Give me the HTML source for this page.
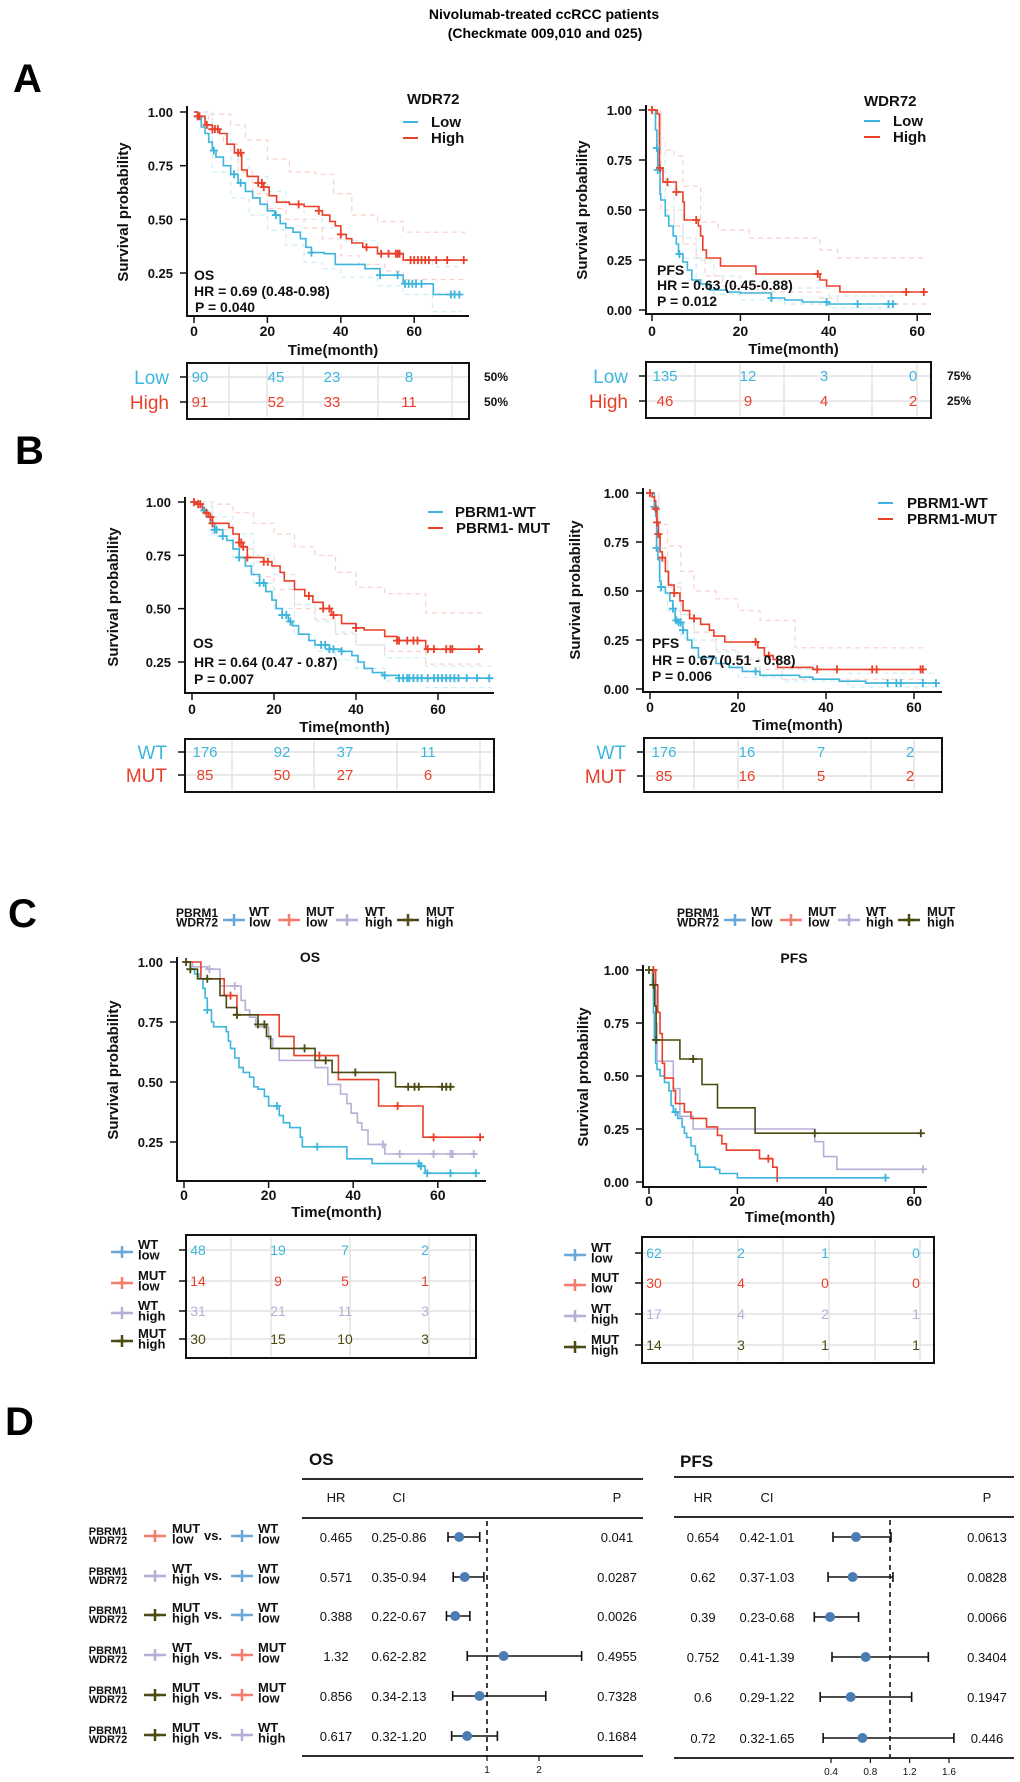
<!DOCTYPE html>
<html><head><meta charset="utf-8">
<style>
html,body{margin:0;padding:0;background:#fff;}
svg{display:block;font-family:"Liberation Sans",Arial,sans-serif;}
</style></head>
<body>
<svg id="fig" width="1020" height="1782" viewBox="0 0 1020 1782" xmlns="http://www.w3.org/2000/svg">
<rect x="0" y="0" width="1020" height="1782" fill="#fff"/>
<text x="544" y="19" text-anchor="middle" font-size="14" font-weight="bold">Nivolumab-treated  ccRCC patients</text>
<text x="545" y="38" text-anchor="middle" font-size="14" font-weight="bold">(Checkmate 009,010 and 025)</text>
<text x="13" y="92" font-size="40" font-weight="bold">A</text>
<text x="15" y="464" font-size="40" font-weight="bold">B</text>
<text x="8" y="927" font-size="40" font-weight="bold">C</text>
<text x="5" y="1435" font-size="40" font-weight="bold">D</text>
</svg>
<script>
// ===== DATA =====
const aOsLowT=[0,1,2,3,4,5,6,8,10,12,14,16,18,20,22,23.5,25,27,29,30.5,32,35.5,38.5,46.6,50.7,57,65.2,72.9];
const aOsLowS=[1,.97,.93,.9,.86,.82,.79,.75,.71,.67,.63,.6,.57,.54,.52,.48,.46,.44,.41,.37,.345,.34,.29,.27,.24,.2,.15,.15];
const aOsLowCens=[5.4,10.9,12.7,22.3,32,50.7,55.5,57.5,58.5,59.5,60.5,62,70,71,72.3];
const aOsHighT=[0,1,3,5,7,9,11,13,14.5,17.5,19,20.5,22.5,26,30,34,35,37,38.5,40,41.5,43,46,50,57,74];
const aOsHighS=[1,.98,.94,.92,.9,.85,.81,.73,.7,.67,.65,.61,.58,.57,.56,.54,.52,.49,.47,.43,.41,.39,.37,.34,.31,.31];
const aOsHighCens=[1,1.5,3.5,5,5.7,6.5,12,12.7,17.5,18.5,19,28.5,34,40,47,51,53,55,55.5,56,59,60,61,62,63,64,66,69,73.5];
const aOsHighUpT=[0,4,10,14,20,26,33,38,43,50,57,74];
const aOsHighUpS=[1,.99,.94,.87,.78,.72,.71,.62,.52,.49,.44,.44];
const aOsHighLoT=[0,4,8,12,16,20,25,30,35,40,45,52,57,74];
const aOsHighLoS=[1,.9,.85,.72,.62,.55,.5,.46,.41,.33,.29,.26,.22,.22];
const aOsLowUpT=[0,5,10,15,20,25,30,35,40,50,57,65,73];
const aOsLowUpS=[1,.9,.78,.7,.63,.57,.5,.46,.4,.35,.31,.28,.28];
const aOsLowLoT=[0,5,10,15,20,25,30,35,40,50,57,65,73];
const aOsLowLoS=[.97,.72,.6,.52,.45,.38,.3,.27,.23,.19,.15,.07,.07];
const aPfsLowT=[0,.8,1.1,1.3,1.8,2,3,3.8,4.8,5.5,6,7,8,9,11,13,17,20,27,30,34,40,55];
const aPfsLowS=[1,.9,.81,.7,.58,.55,.47,.42,.37,.33,.28,.24,.2,.15,.13,.1,.09,.085,.06,.05,.04,.03,.03];
const aPfsLowCens=[1.1,1.3,6.2,27,39.5,46.5,53.5,54.5];
const aPfsHighT=[0,1.2,1.7,2.5,5.5,7,7.3,10.5,11,11.5,12.3,15.5,23.5,38,39.5,42.5,62];
const aPfsHighS=[1,.98,.71,.64,.59,.54,.45,.42,.37,.3,.26,.22,.18,.15,.12,.09,.09];
const aPfsHighCens=[0,1.8,3.5,5.5,10,37.5,57.5,61.5];
const aPfsHighUpT=[0,2,5,7,11,15,22,38,42,62];
const aPfsHighUpS=[1,.8,.77,.62,.44,.4,.36,.3,.26,.26];
const aPfsHighLoT=[0,2,5,7,10,12,16,24,38,42,62];
const aPfsHighLoS=[.98,.5,.42,.33,.26,.17,.12,.09,.06,.03,.03];
const aPfsLowUpT=[0,1.5,3,5,7,10,14,20,30,40,55];
const aPfsLowUpS=[1,.86,.62,.5,.36,.25,.17,.14,.11,.07,.07];
const aPfsLowLoT=[0,1.5,3,5,7,10,14,20,30,40,55];
const aPfsLowLoS=[1,.75,.48,.37,.26,.13,.08,.05,.03,.01,.01];
const bOsWtT=[0,1,2.5,3.5,4.5,5.5,7.5,8.5,10,11.5,13,14.5,16.5,18,19.5,20.5,22,23.5,24.5,26,28.5,30,33.5,36.5,39,40.5,42,44,46.5,50.5,72.5];
const bOsWtS=[1,.99,.96,.93,.9,.87,.84,.82,.78,.74,.7,.66,.62,.58,.54,.5,.47,.44,.42,.38,.35,.33,.31,.3,.28,.25,.22,.2,.187,.174,.174];
const bOsWtCens=[3,5.5,6,7.5,11.5,16.5,17.5,22,23,24,31.5,32.5,33.5,34.5,36.5,47,50.5,51.5,52.5,53,54,55,56,57.5,59,60,61,62,63,64,65,67,69.5,72.5];
const bOsMutT=[0,1,2.5,3,4,5,9,10,11.5,12.5,13.5,17.5,19.5,21.5,22.5,25,27.5,29.5,32,34,36.5,40,42,47,50,57,70.5];
const bOsMutS=[1,.99,.97,.95,.93,.9,.88,.85,.81,.79,.74,.72,.7,.67,.63,.59,.56,.53,.5,.47,.43,.41,.4,.37,.35,.31,.31];
const bOsMutCens=[.5,1.5,2,3.5,4.5,5,11.5,12,12.5,13.5,17.5,18.5,28.5,32,33.5,34.5,40,50,50.5,52.5,54,55,57.5,59,62,63,63.5,70];
const bOsMutUpT=[0,5,10,15,20,25,30,35,40,47,57,71];
const bOsMutUpS=[1,.99,.95,.9,.85,.79,.75,.67,.6,.57,.48,.48];
const bOsMutLoT=[0,5,10,15,20,25,30,35,40,47,57,71];
const bOsMutLoS=[.98,.87,.78,.65,.59,.5,.45,.38,.33,.3,.24,.24];
const bOsWtUpT=[0,5,10,15,20,25,30,35,40,47,57,73];
const bOsWtUpS=[1,.93,.85,.75,.66,.52,.44,.39,.33,.27,.23,.23];
const bOsWtLoT=[0,5,10,15,20,25,30,35,40,47,57,73];
const bOsWtLoS=[.98,.84,.74,.62,.5,.38,.3,.26,.22,.16,.13,.13];
const bPfsWtT=[0,1,1.3,1.5,1.8,2.2,2.5,3.5,4.5,5.2,5.7,6.5,7.5,8.5,9.5,11,15,18,21,25,34,37,43,49,65];
const bPfsWtS=[1,.93,.88,.72,.66,.55,.52,.49,.45,.41,.35,.34,.3,.25,.21,.16,.13,.11,.09,.07,.06,.05,.04,.03,.03];
const bPfsWtCens=[1,1.5,2.5,5.2,6,6.5,7,7.5,24,54,56,57,62,65];
const bPfsMutT=[0,.5,1,1.3,1.6,1.9,2.3,2.8,3.5,4.2,5.5,6.8,7.5,9,11.5,13.5,14.5,17,24.5,26,28,29,37,62];
const bPfsMutS=[1,.98,.96,.92,.85,.79,.7,.67,.6,.53,.49,.45,.4,.36,.33,.3,.27,.24,.21,.17,.15,.11,.1,.1];
const bPfsMutCens=[0,1.3,1.6,1.9,2.8,5.5,10,24,27,38,42.5,50.5,51.5,61.5,62];
const bPfsMutUpT=[0,2,4,7,10,15,20,25,33,62];
const bPfsMutUpS=[1,.84,.73,.6,.5,.46,.4,.35,.21,.21];
const bPfsMutLoT=[0,2,4,7,10,15,20,25,30,62];
const bPfsMutLoS=[.98,.72,.52,.38,.29,.2,.15,.1,.05,.05];
const bPfsWtUpT=[0,2,4,7,10,15,20,30,45,65];
const bPfsWtUpS=[1,.65,.54,.38,.25,.19,.16,.1,.08,.08];
const bPfsWtLoT=[0,2,4,7,10,15,20,30,45,65];
const bPfsWtLoS=[.96,.5,.4,.26,.16,.12,.06,.04,.01,.01];
const cOsWtLowT=[0,1.5,2.5,3.5,4.5,5,5.5,6.5,7,10,10.5,11,12,13,14,15.5,16.5,17.5,19,20,22.5,23.5,25,27.5,28,38.5,44.5,56,57,69];
const cOsWtLowS=[1,.97,.95,.93,.89,.85,.8,.75,.73,.71,.67,.64,.6,.56,.54,.52,.48,.47,.44,.4,.36,.33,.31,.27,.23,.18,.16,.15,.12,.12];
const cOsWtLowCens=[5.5,22,31.5,55.5,56,57.5,63,69];
const cOsMutLowT=[0,4,9.5,12.5,22.5,26,36.5,46,56.5,70.5];
const cOsMutLowS=[1,.93,.86,.78,.69,.61,.51,.4,.27,.27];
const cOsMutLowCens=[11,12.5,32,50.5,59,70];
const cOsWtHighT=[0,2,5.5,8.5,13.5,14.5,15.5,17,20,21,22.5,31,34,37,38.5,39.5,41,42,43.5,47.5,69];
const cOsWtHighS=[1,.98,.97,.9,.84,.8,.77,.73,.68,.64,.59,.56,.49,.45,.41,.37,.33,.3,.24,.2,.2];
const cOsWtHighCens=[6,12,47,51,59,63,63.5,68.5];
const cOsMutHighT=[0,.5,1.5,3.2,8.5,10,12.5,17.5,19.5,20.5,31,35,50,63.5];
const cOsMutHighS=[1,1,.97,.93,.86,.81,.78,.74,.69,.64,.59,.54,.48,.48];
const cOsMutHighCens=[.5,1.5,5.5,12.5,17.5,19,28.5,33.5,40.5,53,54.5,55.5,61,62,63];
const cPfsWtLowT=[0,.8,1,1.2,1.5,1.8,2.5,3.5,4.5,5,5.5,6.5,7.5,8,8.5,9.5,10.5,11,11.5,15,16,20,53.5];
const cPfsWtLowS=[1,.93,.8,.67,.56,.53,.5,.47,.43,.36,.33,.3,.26,.23,.21,.17,.13,.1,.07,.06,.04,.02,.02];
const cPfsWtLowCens=[6,53.5];
const cPfsMutLowT=[0,1.5,2,2.5,3,3.5,5.5,6,8,9.5,13,15.5,16.5,17.5,25,28,29];
const cPfsMutLowS=[1,.93,.8,.7,.56,.49,.43,.37,.33,.3,.26,.22,.18,.15,.11,.07,0];
const cPfsMutLowCens=[1,27];
const cPfsWtHighT=[0,1.5,1.6,1.8,5.5,7,10,37.5,39.5,42.5,62];
const cPfsWtHighS=[1,.9,.75,.57,.44,.31,.25,.19,.12,.06,.06];
const cPfsWtHighCens=[62];
const cPfsMutHighT=[0,1,1.3,1.6,7,12,15.5,24,62];
const cPfsMutHighS=[1,.93,.83,.67,.58,.46,.35,.23,.23];
const cPfsMutHighCens=[0,1,1.6,10,37.5,61.5];
const riskATimes=[0,20,40,60];
const riskAOsLow=[90,45,23,8];
const riskAOsHigh=[91,52,33,11];
const riskAPfsLow=[135,12,3,0];
const riskAPfsHigh=[46,9,4,2];
const riskBOsWt=[176,92,37,11];
const riskBOsMut=[85,50,27,6];
const riskBPfsWt=[176,16,7,2];
const riskBPfsMut=[85,16,5,2];
const riskCOsWtLow=[48,19,7,2];
const riskCOsMutLow=[14,9,5,1];
const riskCOsWtHigh=[31,21,11,3];
const riskCOsMutHigh=[30,15,10,3];
const riskCPfsWtLow=[62,2,1,0];
const riskCPfsMutLow=[30,4,0,0];
const riskCPfsWtHigh=[17,4,2,1];
const riskCPfsMutHigh=[14,3,1,1];
const forestOsHR=[0.465,0.571,0.388,1.32,0.856,0.617];
const forestOsLo=[0.25,0.35,0.22,0.62,0.34,0.32];
const forestOsHi=[0.86,0.94,0.67,2.82,2.13,1.20];
const forestOsHRText=["0.465","0.571","0.388","1.32","0.856","0.617"];
const forestOsCIText=["0.25-0.86","0.35-0.94","0.22-0.67","0.62-2.82","0.34-2.13","0.32-1.20"];
const forestOsP=["0.041","0.0287","0.0026","0.4955","0.7328","0.1684"];
const forestPfsHR=[0.654,0.62,0.39,0.752,0.6,0.72];
const forestPfsLo=[0.42,0.37,0.23,0.41,0.29,0.32];
const forestPfsHi=[1.01,1.03,0.68,1.39,1.22,1.65];
const forestPfsHRText=["0.654","0.62","0.39","0.752","0.6","0.72"];
const forestPfsCIText=["0.42-1.01","0.37-1.03","0.23-0.68","0.41-1.39","0.29-1.22","0.32-1.65"];
const forestPfsP=["0.0613","0.0828","0.0066","0.3404","0.1947","0.446"];
const forestOsTicks=[1,2];
const forestPfsTicks=[0.4,0.8,1.2,1.6];
const compareA=[["MUT","low"],["WT","high"],["MUT","high"],["WT","high"],["MUT","high"],["MUT","high"]];
const compareB=[["WT","low"],["WT","low"],["WT","low"],["MUT","low"],["MUT","low"],["WT","high"]];
const kmTicks=[0,20,40,60];

// ===== DRAWING =====
const svg=document.getElementById('fig');
const NS='http://www.w3.org/2000/svg';
const BLUE='#3db5dc',RED='#e8402a',LAV='#b8aed8',OLV='#4a4a12',PINK='#fbd0ca',LBLUE='#cdeef8';
const LEGC={'WT low':'#6aa8d8','MUT low':'#f47c6c','WT high':'#b8aed8','MUT high':'#4a4a12'};
const CURC={'WT low':BLUE,'MUT low':RED,'WT high':LAV,'MUT high':OLV};
function mk(tag,attrs,parent){const e=document.createElementNS(NS,tag);for(const k in attrs)e.setAttribute(k,attrs[k]);(parent||svg).appendChild(e);return e;}
function nm(e,n){


return e;}
function txt(x,y,s,opt,parent){const e=mk('text',Object.assign({x:x,y:y,'font-size':13,'font-weight':'bold',fill:'#111'},opt||{}),parent);e.textContent=s;return e;}
function survAt(T,S,t){let v=S[0];for(let i=0;i<T.length;i++){if(T[i]<=t)v=S[i];}return v;}

function axes(p){
  const g=mk('g',{});
  nm(g,p.name+'-axes');
  const X=t=>p.x0+t*p.kx, Y=s=>p.y1+(1-s)*p.ky;
  p.X=X;p.Y=Y;
  const ya=mk('line',{x1:p.axL,y1:p.yTop,x2:p.axL,y2:p.axB,stroke:'#111','stroke-width':2},g);
  nm(ya,p.name+'-y-axis');
  const xa=mk('line',{x1:p.axL-1,y1:p.axB,x2:p.axR,y2:p.axB,stroke:'#111','stroke-width':2},g);
  nm(xa,p.name+'-x-axis');
  p.yTicks.forEach(v=>{
    const tl=mk('line',{x1:p.axL-7,y1:Y(v),x2:p.axL,y2:Y(v),stroke:'#111','stroke-width':1.5},g);
    nm(tl,'y-tick');
    const t=txt(p.axL-14,Y(v)+5,v.toFixed(2),{'text-anchor':'end'},g);
    nm(t,'y-tick-label');
  });
  kmTicks.forEach(v=>{
    const tl=mk('line',{x1:X(v),y1:p.axB,x2:X(v),y2:p.axB+7,stroke:'#111','stroke-width':1.5},g);
    nm(tl,'x-tick');
    const t=txt(X(v),p.tickY,String(v),{'text-anchor':'middle','font-size':14},g);
    nm(t,'x-tick-label');
  });
  const xt=txt((p.axL+p.axR)/2+5,p.timeY,'Time(month)',{'text-anchor':'middle','font-size':15},g);
  nm(xt,p.name+'-x-axis-title');
  const yt=txt(0,0,'Survival probability',{'text-anchor':'middle','font-size':15,transform:'translate('+p.ylX+','+p.ylY+') rotate(-90)'},g);
  nm(yt,p.name+'-y-axis-title');
  return p;
}
function stepPath(p,T,S){let d='M'+p.X(T[0]).toFixed(1)+' '+p.Y(S[0]).toFixed(1);for(let i=1;i<T.length;i++){d+=' H'+p.X(T[i]).toFixed(1)+' V'+p.Y(S[i]).toFixed(1);}return d;}
function curve(p,T,S,col,name,w){const e=mk('path',{d:stepPath(p,T,S),fill:'none',stroke:col,'stroke-width':w||1.6});nm(e,name);return e;}
function ci(p,T,S,col,name){const e=mk('path',{d:stepPath(p,T,S),fill:'none',stroke:col,'stroke-width':1.2,'stroke-dasharray':'5,4'});nm(e,name);return e;}
function cens(p,T,S,C,col,name){const g=mk('g',{});nm(g,name);C.forEach(t=>{const x=p.X(t),y=p.Y(survAt(T,S,t));const m=mk('path',{d:'M'+(x-4)+' '+y+'H'+(x+4)+'M'+x+' '+(y-4)+'V'+(y+4),stroke:col,'stroke-width':1.8},g);nm(m,'censor-mark');});}
function legendLine(x1,x2,y,col,label,tx,name){const l=mk('line',{x1:x1,y1:y,x2:x2,y2:y,stroke:col,'stroke-width':2});nm(l,name+'-swatch');const t=txt(tx,y+5,label,{'font-size':15});nm(t,name+'-label');}
function riskTable(b){
  const g=mk('g',{});nm(g,b.name);
  b.vlines.forEach(x=>{const l=mk('line',{x1:x,y1:b.y0+2,x2:x,y2:b.y1-2,stroke:'#e2e2e2','stroke-width':1.5},g);nm(l,'grid-line');});
  b.rows.forEach(r=>{const l=mk('line',{x1:b.x0,y1:r.y,x2:b.x1,y2:r.y,stroke:'#e2e2e2','stroke-width':1.5},g);nm(l,'grid-line');
    const tk=mk('line',{x1:b.x0-7,y1:r.y,x2:b.x0,y2:r.y,stroke:'#111','stroke-width':1.5},g);nm(tk,'row-tick');});
  const box=mk('rect',{x:b.x0,y:b.y0,width:b.x1-b.x0,height:b.y1-b.y0,fill:'none',stroke:'#111','stroke-width':2},g);nm(box,'risk-table-border');
  b.rows.forEach(r=>{
    r.vals.forEach((v,i)=>{const t=txt(b.cols[i],r.y+5,String(v),{'text-anchor':b.anchor||'middle','font-size':b.fs||15,'font-weight':b.fw||'normal',fill:r.col},g);nm(t,'risk-count');});
    if(r.label){const t=txt(b.x0-18,r.y+7,r.label,{'text-anchor':'end','font-size':19,'font-weight':'normal',fill:r.col},g);nm(t,'risk-row-label');}
    if(r.pct){const t=txt(b.pctX,r.y+4,r.pct,{'font-size':12},g);nm(t,'risk-row-percent');}
  });
}
function crossSwatch(cx,cy,col,w,name){const g=mk('g',{});nm(g,name);const a=mk('line',{x1:cx-w/2,y1:cy,x2:cx+w/2,y2:cy,stroke:col,'stroke-width':2.5},g);nm(a,'swatch-line');const b=mk('path',{d:'M'+(cx-5)+' '+cy+'H'+(cx+5)+'M'+cx+' '+(cy-6)+'V'+(cy+6),stroke:col,'stroke-width':2.5},g);nm(b,'swatch-cross');}
function twoLine(x,y,a,b,fs,name,anchor){const t1=txt(x,y,a,{'font-size':fs,'text-anchor':anchor||'start'});nm(t1,name+'-line1');const t2=txt(x,y+fs*0.8,b,{'font-size':fs,'text-anchor':anchor||'start'});nm(t2,name+'-line2');}

const pAO=axes({name:'a-os',x0:194,kx:3.67,y1:112,ky:214.7,axL:187,axR:469,axB:316,yTop:106,yTicks:[.25,.5,.75,1],tickY:336,timeY:355,ylX:128,ylY:212});
ci(pAO,aOsHighUpT,aOsHighUpS,PINK,'a-os-high-ci-upper');ci(pAO,aOsHighLoT,aOsHighLoS,PINK,'a-os-high-ci-lower');
ci(pAO,aOsLowUpT,aOsLowUpS,LBLUE,'a-os-low-ci-upper');ci(pAO,aOsLowLoT,aOsLowLoS,LBLUE,'a-os-low-ci-lower');
curve(pAO,aOsLowT,aOsLowS,BLUE,'a-os-low-curve');curve(pAO,aOsHighT,aOsHighS,RED,'a-os-high-curve');
cens(pAO,aOsLowT,aOsLowS,aOsLowCens,BLUE,'a-os-low-censors');cens(pAO,aOsHighT,aOsHighS,aOsHighCens,RED,'a-os-high-censors');
nm(txt(407,104,'WDR72',{'font-size':15}),'a-os-legend-title');
legendLine(403,418,122,BLUE,'Low',431,'a-os-legend-low');legendLine(403,418,138,RED,'High',431,'a-os-legend-high');
nm(txt(194,280,'OS',{'font-size':14}),'a-os-annotation-endpoint');
nm(txt(194,296,'HR = 0.69 (0.48-0.98)',{'font-size':14}),'a-os-annotation-hr');
nm(txt(195,312,'P = 0.040',{'font-size':14}),'a-os-annotation-p');
riskTable({name:'a-os-risk-table',x0:187,x1:469,y0:363,y1:419,vlines:[229,267,303,378,452],cols:[200,276,332,409],pctX:484,
 rows:[{y:377,vals:riskAOsLow,col:BLUE,label:'Low',pct:'50%'},{y:402,vals:riskAOsHigh,col:RED,label:'High',pct:'50%'}]});

const pAP=axes({name:'a-pfs',x0:652,kx:4.42,y1:110,ky:200,axL:646,axR:931,axB:314,yTop:105,yTicks:[0,.25,.5,.75,1],tickY:336,timeY:354,ylX:587,ylY:210});
ci(pAP,aPfsHighUpT,aPfsHighUpS,PINK,'a-pfs-high-ci-upper');ci(pAP,aPfsHighLoT,aPfsHighLoS,PINK,'a-pfs-high-ci-lower');
ci(pAP,aPfsLowUpT,aPfsLowUpS,LBLUE,'a-pfs-low-ci-upper');ci(pAP,aPfsLowLoT,aPfsLowLoS,LBLUE,'a-pfs-low-ci-lower');
curve(pAP,aPfsLowT,aPfsLowS,BLUE,'a-pfs-low-curve');curve(pAP,aPfsHighT,aPfsHighS,RED,'a-pfs-high-curve');
cens(pAP,aPfsLowT,aPfsLowS,aPfsLowCens,BLUE,'a-pfs-low-censors');cens(pAP,aPfsHighT,aPfsHighS,aPfsHighCens,RED,'a-pfs-high-censors');
nm(txt(864,106,'WDR72',{'font-size':15}),'a-pfs-legend-title');
legendLine(864,880,121,BLUE,'Low',893,'a-pfs-legend-low');legendLine(864,880,137,RED,'High',893,'a-pfs-legend-high');
nm(txt(657,275,'PFS',{'font-size':14}),'a-pfs-annotation-endpoint');
nm(txt(657,290,'HR = 0.63 (0.45-0.88)',{'font-size':14}),'a-pfs-annotation-hr');
nm(txt(657,306,'P = 0.012',{'font-size':14}),'a-pfs-annotation-p');
riskTable({name:'a-pfs-risk-table',x0:646,x1:931,y0:362,y1:418,vlines:[695,740,784,872,917],cols:[665,748,824,913],pctX:947,
 rows:[{y:376,vals:riskAPfsLow,col:BLUE,label:'Low',pct:'75%'},{y:401,vals:riskAPfsHigh,col:RED,label:'High',pct:'25%'}]});

const pBO=axes({name:'b-os',x0:192,kx:4.1,y1:502,ky:213.3,axL:185,axR:494,axB:693,yTop:497,yTicks:[.25,.5,.75,1],tickY:714,timeY:732,ylX:118,ylY:597});
ci(pBO,bOsMutUpT,bOsMutUpS,PINK,'b-os-mut-ci-upper');ci(pBO,bOsMutLoT,bOsMutLoS,PINK,'b-os-mut-ci-lower');
ci(pBO,bOsWtUpT,bOsWtUpS,LBLUE,'b-os-wt-ci-upper');ci(pBO,bOsWtLoT,bOsWtLoS,LBLUE,'b-os-wt-ci-lower');
curve(pBO,bOsWtT,bOsWtS,BLUE,'b-os-wt-curve');curve(pBO,bOsMutT,bOsMutS,RED,'b-os-mut-curve');
cens(pBO,bOsWtT,bOsWtS,bOsWtCens,BLUE,'b-os-wt-censors');cens(pBO,bOsMutT,bOsMutS,bOsMutCens,RED,'b-os-mut-censors');
legendLine(428,443,512,BLUE,'PBRM1-WT',455,'b-os-legend-wt');legendLine(428,443,528,RED,'PBRM1- MUT',456,'b-os-legend-mut');
nm(txt(193,648,'OS',{'font-size':14}),'b-os-annotation-endpoint');
nm(txt(194,667,'HR  =  0.64   (0.47 -  0.87)',{'font-size':14}),'b-os-annotation-hr');
nm(txt(194,684,'P =   0.007',{'font-size':14}),'b-os-annotation-p');
riskTable({name:'b-os-risk-table',x0:185,x1:494,y0:739,y1:792,vlines:[232,314,397,480],cols:[205,282,345,428],
 rows:[{y:752,vals:riskBOsWt,col:BLUE,label:'WT'},{y:775,vals:riskBOsMut,col:RED,label:'MUT'}]});

const pBP=axes({name:'b-pfs',x0:650,kx:4.4,y1:493,ky:196,axL:643,axR:942,axB:692,yTop:488,yTicks:[0,.25,.5,.75,1],tickY:712,timeY:730,ylX:580,ylY:590});
ci(pBP,bPfsMutUpT,bPfsMutUpS,PINK,'b-pfs-mut-ci-upper');ci(pBP,bPfsMutLoT,bPfsMutLoS,PINK,'b-pfs-mut-ci-lower');
ci(pBP,bPfsWtUpT,bPfsWtUpS,LBLUE,'b-pfs-wt-ci-upper');ci(pBP,bPfsWtLoT,bPfsWtLoS,LBLUE,'b-pfs-wt-ci-lower');
curve(pBP,bPfsWtT,bPfsWtS,BLUE,'b-pfs-wt-curve');curve(pBP,bPfsMutT,bPfsMutS,RED,'b-pfs-mut-curve');
cens(pBP,bPfsWtT,bPfsWtS,bPfsWtCens,BLUE,'b-pfs-wt-censors');cens(pBP,bPfsMutT,bPfsMutS,bPfsMutCens,RED,'b-pfs-mut-censors');
legendLine(878,893,503,BLUE,'PBRM1-WT',907,'b-pfs-legend-wt');legendLine(878,893,519,RED,'PBRM1-MUT',907,'b-pfs-legend-mut');
nm(txt(652,648,'PFS',{'font-size':14}),'b-pfs-annotation-endpoint');
nm(txt(652,665,'HR  =  0.67  (0.51 - 0.88)',{'font-size':14}),'b-pfs-annotation-hr');
nm(txt(652,681,'P =  0.006',{'font-size':14}),'b-pfs-annotation-p');
riskTable({name:'b-pfs-risk-table',x0:644,x1:942,y0:738,y1:792,vlines:[694,738,783,871,914],cols:[664,747,821,910],
 rows:[{y:752,vals:riskBPfsWt,col:BLUE,label:'WT'},{y:776,vals:riskBPfsMut,col:RED,label:'MUT'}]});

function cLegend(px,items,name){
  twoLine(px,917,'PBRM1','WDR72',12,name+'-group-title');
  items.forEach(it=>{crossSwatch(it[0],920,LEGC[it[2]],22,name+'-swatch');const pr=it[2].split(' ');twoLine(it[1],916,pr[0],pr[1],13,name+'-entry');});
}
cLegend(176,[[234,249,'WT low'],[289,306,'MUT low'],[347,365,'WT high'],[408,426,'MUT high']],'c-os-legend');
cLegend(677,[[735,751,'WT low'],[791,808,'MUT low'],[849,866,'WT high'],[909,927,'MUT high']],'c-pfs-legend');

const pCO=axes({name:'c-os',x0:184,kx:4.23,y1:962,ky:240,axL:177,axR:486,axB:1181,yTop:957,yTicks:[.25,.5,.75,1],tickY:1200,timeY:1217,ylX:118,ylY:1070});
nm(txt(310,962,'OS',{'text-anchor':'middle','font-size':14}),'c-os-title');
curve(pCO,cOsWtLowT,cOsWtLowS,BLUE,'c-os-wt-low-curve');curve(pCO,cOsWtHighT,cOsWtHighS,LAV,'c-os-wt-high-curve');
curve(pCO,cOsMutLowT,cOsMutLowS,RED,'c-os-mut-low-curve');curve(pCO,cOsMutHighT,cOsMutHighS,OLV,'c-os-mut-high-curve');
cens(pCO,cOsWtLowT,cOsWtLowS,cOsWtLowCens,BLUE,'c-os-wt-low-censors');cens(pCO,cOsWtHighT,cOsWtHighS,cOsWtHighCens,LAV,'c-os-wt-high-censors');
cens(pCO,cOsMutLowT,cOsMutLowS,cOsMutLowCens,RED,'c-os-mut-low-censors');cens(pCO,cOsMutHighT,cOsMutHighS,cOsMutHighCens,OLV,'c-os-mut-high-censors');

const pCP=axes({name:'c-pfs',x0:649,kx:4.42,y1:970,ky:212,axL:643,axR:927,axB:1187,yTop:965,yTicks:[0,.25,.5,.75,1],tickY:1206,timeY:1222,ylX:588,ylY:1077});
nm(txt(794,963,'PFS',{'text-anchor':'middle','font-size':14}),'c-pfs-title');
curve(pCP,cPfsWtLowT,cPfsWtLowS,BLUE,'c-pfs-wt-low-curve');curve(pCP,cPfsWtHighT,cPfsWtHighS,LAV,'c-pfs-wt-high-curve');
curve(pCP,cPfsMutLowT,cPfsMutLowS,RED,'c-pfs-mut-low-curve');curve(pCP,cPfsMutHighT,cPfsMutHighS,OLV,'c-pfs-mut-high-curve');
cens(pCP,cPfsWtLowT,cPfsWtLowS,cPfsWtLowCens,BLUE,'c-pfs-wt-low-censors');cens(pCP,cPfsWtHighT,cPfsWtHighS,cPfsWtHighCens,LAV,'c-pfs-wt-high-censors');
cens(pCP,cPfsMutLowT,cPfsMutLowS,cPfsMutLowCens,RED,'c-pfs-mut-low-censors');cens(pCP,cPfsMutHighT,cPfsMutHighS,cPfsMutHighCens,OLV,'c-pfs-mut-high-censors');

function cRows(ys,vals){const keys=['WT low','MUT low','WT high','MUT high'];return keys.map((k,i)=>({y:ys[i],vals:vals[i],col:CURC[k]}));}
riskTable({name:'c-os-risk-table',x0:186,x1:476,y0:1235,y1:1358,vlines:[231,271,350,429,470],cols:[198,278,345,425],fs:14,
 rows:cRows([1250,1281,1311,1339],[riskCOsWtLow,riskCOsMutLow,riskCOsWtHigh,riskCOsMutHigh])});
riskTable({name:'c-pfs-risk-table',x0:642,x1:934,y0:1237,y1:1363,vlines:[693,738,783,829,875,920],cols:[654,741,825,916],fs:14,
 rows:cRows([1253,1283,1314,1345],[riskCPfsWtLow,riskCPfsMutLow,riskCPfsWtHigh,riskCPfsMutHigh])});
[['c-os-risk-legend',122,138,[1250,1281,1311,1339]],['c-pfs-risk-legend',575,591,[1253,1283,1314,1345]]].forEach(L=>{
  ['WT low','MUT low','WT high','MUT high'].forEach((k,i)=>{crossSwatch(L[1],L[3][i]+2,LEGC[k],22,L[0]+'-swatch');const pr=k.split(' ');twoLine(L[2],L[3][i]-1,pr[0],pr[1],13,L[0]+'-entry');});
});

const rowY=[1537,1577,1616,1656,1696,1736];
rowY.forEach((y,i)=>{
  twoLine(108,y-2,'PBRM1','WDR72',11,'d-row-group-title','middle');
  const a=compareA[i],b=compareB[i];
  crossSwatch(155,y-1,LEGC[a.join(' ')],22,'d-row-swatch-a');
  twoLine(172,y-4,a[0],a[1],13,'d-row-group-a');
  nm(txt(204,y+3,'vs.',{'font-size':13}),'d-row-vs');
  crossSwatch(242,y-1,LEGC[b.join(' ')],22,'d-row-swatch-b');
  twoLine(258,y-4,b[0],b[1],13,'d-row-group-b');
});
function forest(f){
  const g=mk('g',{});nm(g,f.name);
  const X=v=>f.zero+v*f.k;
  [f.yTop,f.yHead,f.yBot].forEach(y=>{const l=mk('line',{x1:f.x0,y1:y,x2:f.x1,y2:y,stroke:'#111','stroke-width':1.8},g);nm(l,'table-rule');});
  nm(txt(f.titleX,f.titleY,f.title,{'font-size':17}),f.name+'-title');
  nm(txt(f.hrX,1502,'HR',{'font-size':13,'font-weight':'normal','text-anchor':'middle'},g),'hr-header');
  nm(txt(f.ciX,1502,'CI',{'font-size':13,'font-weight':'normal','text-anchor':'middle'},g),'ci-header');
  nm(txt(f.pX,1502,'P',{'font-size':13,'font-weight':'normal','text-anchor':'middle'},g),'p-header');
  const dl=mk('line',{x1:X(1),y1:f.yHead+3,x2:X(1),y2:f.yBot,stroke:'#111','stroke-width':1.6,'stroke-dasharray':'5,4'},g);nm(dl,'reference-line');
  f.ticks.forEach(v=>{const t=mk('line',{x1:X(v),y1:f.yBot,x2:X(v),y2:f.yBot+5,stroke:'#111','stroke-width':1.2},g);nm(t,'forest-tick');
    nm(txt(X(v),f.yBot+17,String(v),{'font-size':10,'font-weight':'normal','text-anchor':'middle'},g),'forest-tick-label');});
  f.hr.forEach((v,i)=>{const y=f.rows[i];
    nm(txt(f.hrX,y+5,f.hrT[i],{'font-size':13,'font-weight':'normal','text-anchor':'middle'},g),'hr-value');
    nm(txt(f.ciX,y+5,f.ciT[i],{'font-size':13,'font-weight':'normal','text-anchor':'middle'},g),'ci-value');
    nm(txt(f.pX,y+5,f.p[i],{'font-size':13,'font-weight':'normal','text-anchor':'middle'},g),'p-value');
    const ln=mk('path',{d:'M'+X(f.lo[i])+' '+y+'H'+X(f.hi[i])+'M'+X(f.lo[i])+' '+(y-5)+'V'+(y+5)+'M'+X(f.hi[i])+' '+(y-5)+'V'+(y+5),stroke:'#111','stroke-width':1.6,fill:'none'},g);nm(ln,'ci-bar');
    const d=mk('circle',{cx:X(v),cy:y,r:5,fill:'#4b7db5'},g);nm(d,'hr-point');
  });
}
forest({name:'d-os-forest',x0:302,x1:643,yTop:1479,yHead:1518,yBot:1756,title:'OS',titleX:309,titleY:1465,hrX:336,ciX:399,pX:617,zero:435,k:52,
  ticks:forestOsTicks,hr:forestOsHR,lo:forestOsLo,hi:forestOsHi,hrT:forestOsHRText,ciT:forestOsCIText,p:forestOsP,rows:rowY});
forest({name:'d-pfs-forest',x0:674,x1:1014,yTop:1477,yHead:1517,yBot:1758,title:'PFS',titleX:680,titleY:1467,hrX:703,ciX:767,pX:987,zero:791.7,k:98.3,
  ticks:forestPfsTicks,hr:forestPfsHR,lo:forestPfsLo,hi:forestPfsHi,hrT:forestPfsHRText,ciT:forestPfsCIText,p:forestPfsP,rows:[1537,1577,1617,1657,1697,1738]});
</script>
</body></html>
